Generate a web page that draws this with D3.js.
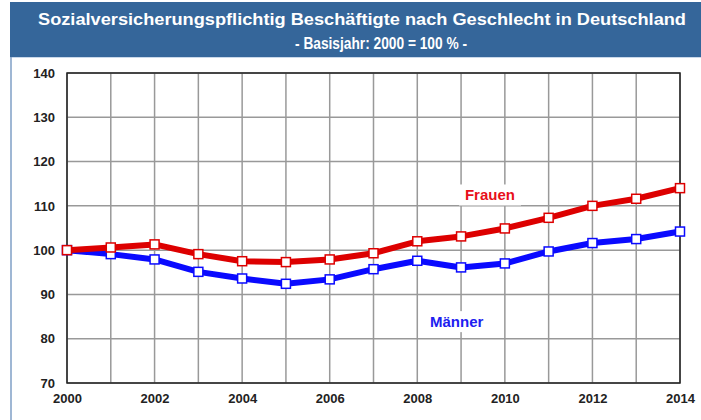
<!DOCTYPE html>
<html>
<head>
<meta charset="utf-8">
<script src="https://cdn.jsdelivr.net/npm/d3@7"></script>
<style>
  body { margin: 0; background: #fff; }
  svg { display: block; font-family: Arial, "Liberation Sans", sans-serif; }
</style>
</head>
<body>
<svg id="chart" width="701" height="420"></svg>
<script>
// data (index, 2000 = 100)
const years = [2000, 2001, 2002, 2003, 2004, 2005, 2006, 2007, 2008, 2009, 2010, 2011, 2012, 2013, 2014];
const frauen = [100, 100.6, 101.3, 99.1, 97.5, 97.3, 97.9, 99.3, 102.0, 103.1, 104.9, 107.3, 110.0, 111.6, 114.0];
const maenner = [100, 99.1, 97.9, 95.1, 93.6, 92.4, 93.4, 95.7, 97.6, 96.1, 97.0, 99.7, 101.6, 102.5, 104.2];
const yTicks = [70, 80, 90, 100, 110, 120, 130, 140];
const xLabels = [2000, 2002, 2004, 2006, 2008, 2010, 2012, 2014];

const margin = {top: 73, right: 21, bottom: 37, left: 67};
const width = 701 - margin.left - margin.right;
const height = 420 - margin.top - margin.bottom;

const svg = d3.select('#chart');

// header band
svg.append('rect').attr('x', 10).attr('y', 2).attr('width', 691).attr('height', 55).attr('fill', '#35669a');
svg.append('line').attr('x1', 10).attr('x2', 701).attr('y1', 57.5).attr('y2', 57.5).attr('stroke', '#c9d8ea');
svg.append('line').attr('x1', 11).attr('x2', 11).attr('y1', 57).attr('y2', 420).attr('stroke', '#7f9fc6').attr('stroke-width', 1.5);

svg.append('text').attr('x', 362).attr('y', 25).attr('text-anchor', 'middle')
  .attr('fill', '#fff').attr('font-weight', 'bold').attr('font-size', 17)
  .attr('textLength', 648).attr('lengthAdjust', 'spacingAndGlyphs')
  .text('Sozialversicherungspflichtig Beschäftigte nach Geschlecht in Deutschland');
svg.append('text').attr('x', 381).attr('y', 49).attr('text-anchor', 'middle')
  .attr('fill', '#fff').attr('font-size', 16.5).attr('font-weight', 'bold')
  .attr('textLength', 172).attr('lengthAdjust', 'spacingAndGlyphs')
  .text('- Basisjahr: 2000 = 100 % -');

const g = svg.append('g').attr('transform', `translate(${margin.left},${margin.top})`);

const x = d3.scaleLinear().domain([2000, 2014]).range([0, width]);
const y = d3.scaleLinear().domain([70, 140]).range([height, 0]);

// grid
g.append('g').selectAll('line').data(years).join('line')
  .attr('x1', d => x(d)).attr('x2', d => x(d)).attr('y1', 0).attr('y2', height)
  .attr('stroke', '#999').attr('stroke-width', 1.5);
g.append('g').selectAll('line').data(yTicks).join('line')
  .attr('x1', 0).attr('x2', width).attr('y1', d => y(d)).attr('y2', d => y(d))
  .attr('stroke', '#999').attr('stroke-width', 1.5);

// frame
g.append('rect').attr('width', width).attr('height', height)
  .attr('fill', 'none').attr('stroke', '#222').attr('stroke-width', 1.5);

// axes
const yAxis = g.append('g').call(d3.axisLeft(y).tickValues(yTicks).tickSize(0).tickPadding(12));
const xAxis = g.append('g').attr('transform', `translate(0,${height})`)
  .call(d3.axisBottom(x).tickValues(xLabels).tickFormat(d3.format('d')).tickSize(0).tickPadding(11));
[yAxis, xAxis].forEach(a => {
  a.select('.domain').remove();
  a.selectAll('text').attr('font-size', 13).attr('font-weight', 'bold').attr('fill', '#222')
    .style('font-family', 'Arial, "Liberation Sans", sans-serif');
});

// labels with white background
function label(text, year, val, color) {
  const t = g.append('text').attr('x', x(year)).attr('y', y(val))
    .attr('text-anchor', 'middle').attr('dy', '0.35em')
    .attr('font-size', 15).attr('font-weight', 'bold').attr('fill', color).text(text);
  const b = t.node().getBBox();
  g.insert('rect', () => t.node()).attr('x', b.x - 6).attr('y', b.y - 2)
    .attr('width', b.width + 12).attr('height', b.height + 4).attr('fill', '#fff');
}

const line = d3.line().x((d, i) => x(years[i])).y(d => y(d));

const series = [
  {name: 'Männer', values: maenner, color: '#0a0aff'},
  {name: 'Frauen', values: frauen, color: '#dd0000'}
];

label('Frauen', 2009.66, 112.4, '#e8101a');
label('Männer', 2008.9, 83.8, '#2020f0');

series.forEach(s => {
  g.append('path').datum(s.values).attr('d', line)
    .attr('fill', 'none').attr('stroke', s.color).attr('stroke-width', 6)
    .attr('stroke-linejoin', 'round');
  g.append('g').selectAll('rect').data(s.values).join('rect')
    .attr('x', (d, i) => x(years[i]) - 4.5).attr('y', d => y(d) - 4.5)
    .attr('width', 9).attr('height', 9)
    .attr('fill', '#fff').attr('stroke', s.color).attr('stroke-width', 1.5);
});
</script>
</body>
</html>
